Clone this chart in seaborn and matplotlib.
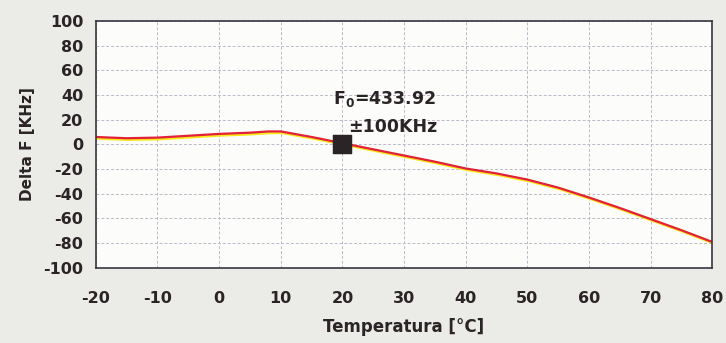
import seaborn as sns
import matplotlib.pyplot as plt
import pandas as pd

# temperature vs frequency deviation
temperatura = [-20, -15, -10, -5, 0, 5, 8, 10, 15, 20, 25, 30, 35, 40, 45, 50, 55, 60, 65, 70, 75, 80]
delta_f = [6, 5, 5.5, 7, 8.5, 9.5, 10.5, 10.5, 6, 1, -4, -9, -14, -19.5, -23.5, -28.5, -35, -43, -51.5, -60.5, -69.5, -79]
f0_temp = [20]
f0_delta = [0]

df = pd.DataFrame({"Temperatura": temperatura, "Delta": delta_f})

sns.set_style("white")
plt.rcParams['font.family'] = ['DejaVu Sans']
plt.rcParams['axes.unicode_minus'] = False
plt.rcParams['mathtext.default'] = 'bf'

fig = plt.figure(figsize=(7.26, 3.43), dpi=100, facecolor="#ebebe7")
ax = fig.add_axes([0.132, 0.219, 0.849, 0.72])
ax.set_facecolor("#fcfcfa")

# yellow shadow under the red curve
sns.lineplot(x=[t + 0.3 for t in temperatura], y=[d - 1.0 for d in delta_f],
             color="#f7e81a", linewidth=2.2, ax=ax)
sns.lineplot(data=df, x="Temperatura", y="Delta", color="#e3203a", linewidth=1.6, ax=ax)
sns.scatterplot(x=f0_temp, y=f0_delta, marker="s", s=170, color="#2a2426",
                edgecolor="#2a2426", zorder=5, ax=ax)

ax.text(18.5, 33, "F$_0$=433.92", fontsize=12.5, fontweight="bold", color="#2a2426")
ax.text(21, 10, "±100KHz", fontsize=12.5, fontweight="bold", color="#2a2426")

ax.set_xlim(-20, 80)
ax.set_ylim(-100, 100)
ax.set_xticks(range(-20, 81, 10))
ax.set_yticks(range(-100, 101, 20))
ax.grid(True, color="#bdb9c8", linestyle=(0, (3, 2)), linewidth=0.7)
for s in ax.spines.values():
    s.set_color("#3a3540")
    s.set_linewidth(1.2)
ax.tick_params(direction="out", length=5, color="#6a6575", labelsize=11.5, pad=4)
for lab in ax.get_xticklabels() + ax.get_yticklabels():
    lab.set_fontweight("bold")
    lab.set_color("#2a2426")
ax.tick_params(axis="x", pad=12)

ax.set_xlabel("Temperatura [°C]", fontsize=12, fontweight="bold", color="#2a2426", labelpad=8)
ax.set_ylabel("Delta F [KHz]", fontsize=11, fontweight="bold", color="#2a2426", labelpad=6)

fig.savefig("out.png", dpi=100, facecolor=fig.get_facecolor())
